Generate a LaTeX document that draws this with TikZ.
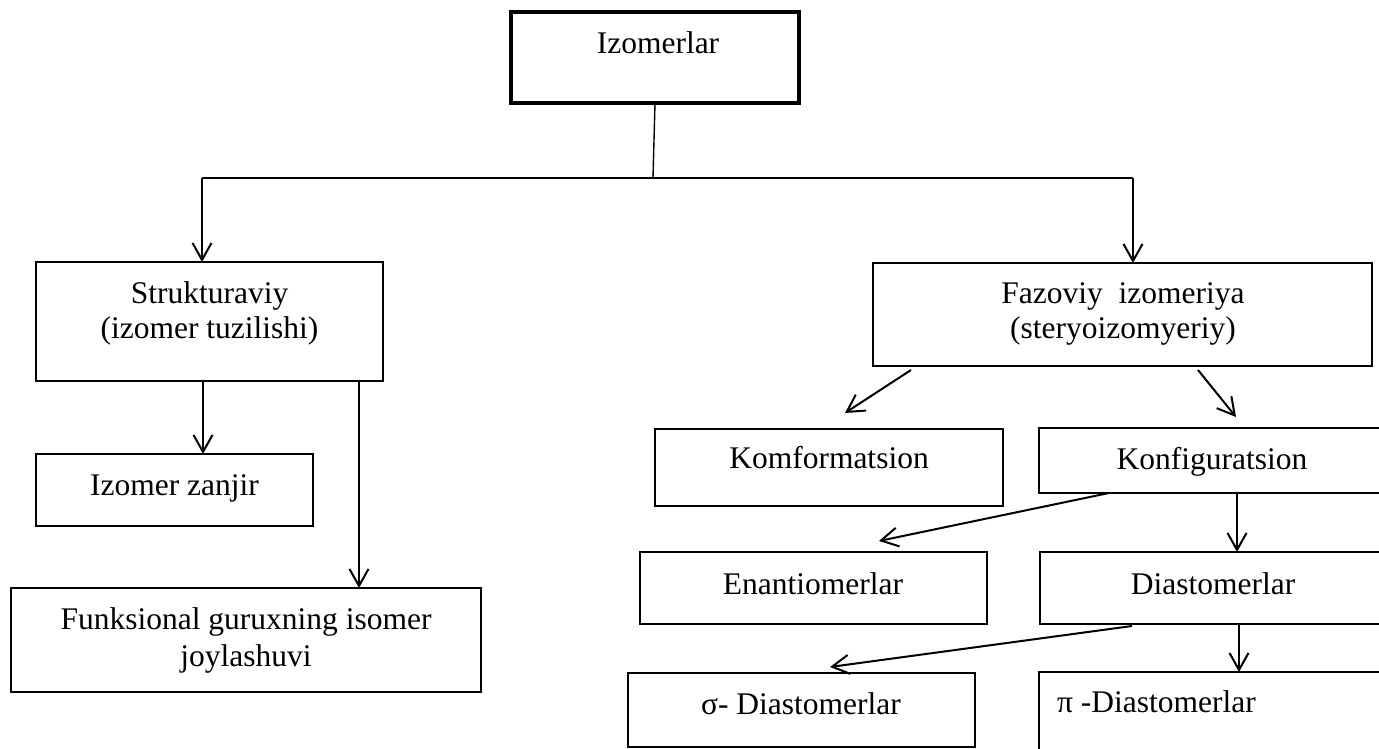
\documentclass[tikz,border=0pt]{standalone}
\usepackage{fontspec}
\setmainfont{Liberation Serif}
\usetikzlibrary{arrows.meta,calc}
\begin{document}
\begin{tikzpicture}[x=1pt,y=-1pt,
  box/.style={draw, line width=2.6pt, inner sep=0pt, outer sep=0pt},
  lbl/.style={font=\fontsize{31.5}{35}\selectfont, inner sep=0pt, align=center},
  conn/.style={line width=2pt, -{Straight Barb[length=17pt,width=19pt,line width=2pt]}},
  thinline/.style={line width=1.4pt},
]
\useasboundingbox (0,0) rectangle (1379,749);
\clip (0,0) rectangle (1379,749);

% boxes
\node[box, line width=3.2pt, minimum width=288pt, minimum height=91pt] (iz) at (655,57.5) {};
\node[box, minimum width=347pt, minimum height=119pt] (st) at (209.5,321.5) {};
\node[box, minimum width=499pt, minimum height=103pt] (fz) at (1122.5,314.5) {};
\node[box, minimum width=277pt, minimum height=72pt] (zj) at (174.5,490) {};
\node[box, minimum width=470pt, minimum height=104pt] (fk) at (246,640) {};
\node[box, minimum width=348pt, minimum height=77pt] (km) at (829,467.5) {};
\node[box, minimum width=347pt, minimum height=65pt] (kf) at (1212.5,460.5) {};
\node[box, minimum width=347pt, minimum height=72pt] (en) at (813.5,588) {};
\node[box, minimum width=346pt, minimum height=72pt] (di) at (1213,588) {};
\node[box, minimum width=347pt, minimum height=74pt] (sd) at (801.5,710) {};
\node[box, minimum width=351pt, minimum height=128pt] (pd) at (1214.5,736) {};

% texts (base anchor = baseline of the last line)
\node[lbl, anchor=base] (tiz) at (658,54) {Izomerlar};
\node[lbl, anchor=base] (tst) at (209.5,338) {Strukturaviy\\(izomer tuzilishi)};
\node[lbl, anchor=base] (tfz) at (1123,338) {Fazoviy\ \ izomeriya\\(steryoizomyeriy)};
\node[lbl, anchor=base] (tzj) at (174.5,495) {Izomer zanjir};
\node[lbl, anchor=base, font=\fontsize{31.5}{37}\selectfont] (tfk) at (246,666) {Funksional guruxning isomer\\joylashuvi};
\node[lbl, anchor=base] (tkm) at (829,468) {Komformatsion};
\node[lbl, anchor=base] (tkf) at (1212,469) {Konfiguratsion};
\node[lbl, anchor=base] (ten) at (813,594) {Enantiomerlar};
\node[lbl, anchor=base] (tdi) at (1213,594) {Diastomerlar};
\node[lbl, anchor=base] (tsd) at (801,714) {σ- Diastomerlar};
\node[lbl, anchor=base west] (tpd) at (1057,712) {π -Diastomerlar};

% bus
\coordinate (busL) at (202,178);
\coordinate (busM) at (653,178);
\coordinate (busR) at (1133,178);
\coordinate (xa) at (203,0);
\coordinate (xb) at (359,0);
\coordinate (xc) at (1237,0);
\coordinate (xd) at (1239,0);

\draw[thinline] (iz.south) -- (busM);
\draw[thinline] (busL) -- (busR);
\draw[conn] (busL) -- (busL |- st.north);
\draw[conn] (busR) -- (busR |- fz.north);

\draw[conn] (st.south -| xa) -- (zj.north -| xa);
\draw[conn] (st.south -| xb) -- (fk.north -| xb);

\draw[conn] ($(fz.south west)+(38,4)$) -- ($(km.north west)+(190,-16)$);
\draw[conn] ($(fz.south west)+(325,4)$) -- ($(kf.north west)+(197,-11)$);

\draw[conn] ($(kf.south west)+(70,0)$) -- ($(en.north west)+(239,-11)$);
\draw[conn] (kf.south -| xc) -- (di.north -| xc);

\draw[conn] ($(di.south west)+(92,2)$) -- ($(sd.north west)+(202,-6)$);
\draw[conn] (di.south -| xd) -- (pd.north -| xd);
\end{tikzpicture}
\end{document}
